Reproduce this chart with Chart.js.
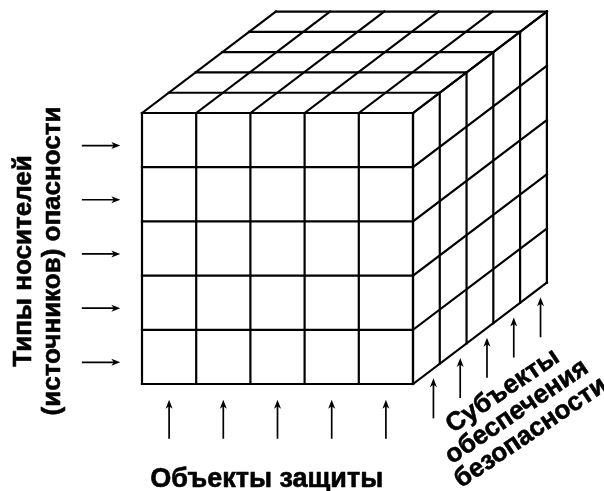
<!DOCTYPE html>
<html>
<head>
<meta charset="utf-8">
<script src="https://cdn.jsdelivr.net/npm/chart.js@4"></script>
<style>
  body { margin: 0; background: #fff; }
  #cube { display: block; }
</style>
</head>
<body>
<canvas id="cube" width="604" height="491"></canvas>
<script>
// cube cells: 5 x 5 x 5
const objectCols = [1, 2, 3, 4, 5];     // Объекты защиты (front, across)
const sourceRows = [1, 2, 3, 4, 5];     // Типы носителей (front, up)
const subjectLayers = [1, 2, 3, 4, 5];  // Субъекты (depth)

const objectsLabel = "Объекты защиты";
const sourcesLabel = ["Типы носителей", "(источников) опасности"];
const subjectsLabel = ["Субъекты", "обеспечения", "безопасности"];

// oblique projection of the depth axis (in cell units)
const depthX = 0.494;
const depthY = 0.374;

const nx = objectCols.length, ny = sourceRows.length, nz = subjectLayers.length;

function P(i, j, k) {
  return { x: i + k * depthX, y: j + k * depthY };
}

// -----------------------------
// Build grid segments
// -----------------------------
const segments = [];
// front face
for (let i = 0; i <= nx; i++) segments.push([P(i, 0, 0), P(i, ny, 0)]);
for (let j = 0; j <= ny; j++) segments.push([P(0, j, 0), P(nx, j, 0)]);
// top face
for (let k = 0; k <= nz; k++) segments.push([P(0, ny, k), P(nx, ny, k)]);
for (let i = 0; i <= nx; i++) segments.push([P(i, ny, 0), P(i, ny, nz)]);
// right face
for (let k = 0; k <= nz; k++) segments.push([P(nx, 0, k), P(nx, ny, k)]);
for (let j = 0; j <= ny; j++) segments.push([P(nx, j, 0), P(nx, j, nz)]);

const datasets = segments.map(s => ({
  data: s,
  showLine: true,
  borderColor: "#000",
  borderWidth: 2.2,
  pointRadius: 0,
  borderCapStyle: "square",
  borderJoinStyle: "miter"
}));

// -----------------------------
// Helper: arrow with narrow head
// -----------------------------
function drawArrow(ctx, x1, y1, x2, y2) {
  const ang = Math.atan2(y2 - y1, x2 - x1);
  const len = 9, half = 3.5;
  ctx.beginPath();
  ctx.moveTo(x1, y1);
  ctx.lineTo(x2 - Math.cos(ang) * 6, y2 - Math.sin(ang) * 6);
  ctx.lineWidth = 1.7;
  ctx.stroke();
  ctx.save();
  ctx.translate(x2, y2);
  ctx.rotate(ang);
  ctx.beginPath();
  ctx.moveTo(0, 0);
  ctx.lineTo(-len, -half);
  ctx.lineTo(-len + 2.5, 0);
  ctx.lineTo(-len, half);
  ctx.closePath();
  ctx.fill();
  ctx.restore();
}

// bold text, slightly heavier like the original
function label(ctx, t, x, y) {
  ctx.fillText(t, x, y);
  ctx.strokeText(t, x, y);
}

const annotate = {
  id: "annotate",
  afterDraw(chart) {
    const ctx = chart.ctx;
    const sx = chart.scales.x, sy = chart.scales.y;
    const px = v => sx.getPixelForValue(v);
    const py = v => sy.getPixelForValue(v);
    ctx.save();
    ctx.strokeStyle = "#000";
    ctx.fillStyle = "#000";

    // left arrows -> rows
    sourceRows.forEach((_, j) => {
      const yc = py(j + 0.4);
      drawArrow(ctx, px(-1.11), yc, px(-0.4), yc);
    });
    // bottom arrows -> columns
    objectCols.forEach((_, i) => {
      const xc = px(i + 0.5);
      drawArrow(ctx, xc, py(-1.01), xc, py(-0.29));
    });
    // arrows under right face -> depth layers
    subjectLayers.forEach((_, k) => {
      const c = P(nx, 0, k + 0.5);
      const xc = px(c.x + 0.13);
      drawArrow(ctx, xc, py(c.y - 0.82), xc, py(c.y - 0.08));
    });

    ctx.textAlign = "center";
    ctx.lineWidth = 0.6;
    ctx.lineJoin = "round";

    // bottom label
    ctx.font = "bold 27px 'Liberation Sans', Arial, sans-serif";
    ctx.textBaseline = "alphabetic";
    label(ctx, objectsLabel, px(2.3), py(-1.9));

    ctx.font = "bold 26px 'Liberation Sans', Arial, sans-serif";
    ctx.textBaseline = "middle";
    // left vertical label
    ctx.save();
    ctx.translate(px(-1.93), py(2.27));
    ctx.rotate(-Math.PI / 2);
    sourcesLabel.forEach((t, n) => label(ctx, t, 0, n * 29 - 14));
    ctx.restore();

    // diagonal label
    ctx.save();
    const a = P(nx, 0, nz * 0.5);
    ctx.translate(px(a.x + 0.68), py(a.y - 1.45));
    ctx.rotate(-34 * Math.PI / 180);
    subjectsLabel.forEach((t, n) => label(ctx, t, 0, (n - 1) * 25));
    ctx.restore();

    ctx.restore();
  }
};

new Chart(document.getElementById("cube"), {
  type: "scatter",
  data: { datasets },
  options: {
    responsive: false,
    animation: false,
    layout: { padding: 0 },
    plugins: { legend: { display: false }, tooltip: { enabled: false } },
    scales: {
      x: { type: "linear", display: false, min: -2.62, max: 8.524 },
      y: { type: "linear", display: false, min: -1.974, max: 7.085 }
    }
  },
  plugins: [annotate]
});
</script>
</body>
</html>
